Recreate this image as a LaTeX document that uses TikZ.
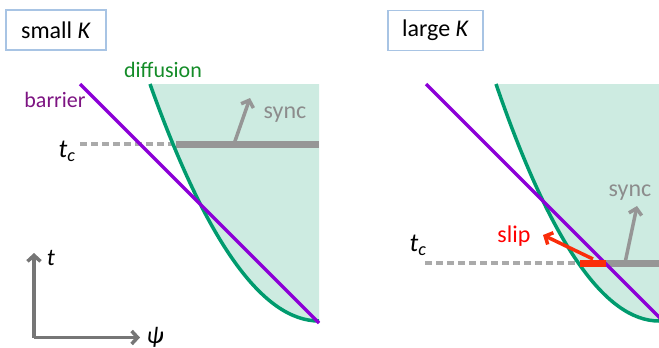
\documentclass[tikz,border=0pt]{standalone}
\usepackage{fontspec}
\setmainfont{Carlito}
\usetikzlibrary{arrows.meta}
\definecolor{teal0}{RGB}{205,235,225}
\definecolor{diffc}{RGB}{0,155,110}
\definecolor{barc}{RGB}{140,0,215}
\definecolor{bartxt}{RGB}{125,20,130}
\definecolor{difftxt}{RGB}{20,140,40}
\definecolor{dashc}{RGB}{170,170,170}
\definecolor{syncc}{RGB}{150,150,150}
\definecolor{synctxt}{RGB}{140,140,140}
\definecolor{axisc}{RGB}{118,118,118}
\definecolor{slipc}{RGB}{250,45,10}
\definecolor{sliptxt}{RGB}{255,0,0}
\definecolor{boxc}{RGB}{168,196,228}
\begin{document}
\begin{tikzpicture}[x=1pt,y=-1pt,
  lbl/.style={font=\fontsize{22}{26}\selectfont, inner sep=0pt, anchor=base},
  biglbl/.style={font=\fontsize{24}{28}\selectfont, inner sep=0pt, anchor=base},
  boxlbl/.style={draw=boxc, line width=1.5pt, minimum width=100pt, minimum height=40pt, inner sep=0pt, font=\fontsize{24}{28}\selectfont},
  tclbl/.style={font=\fontsize{26}{30}\selectfont\itshape, inner sep=0pt},
  barrierline/.style={draw=barc, line width=3.5pt},
  diffline/.style={draw=diffc, line width=3.5pt},
  dashline/.style={draw=dashc, line width=3.5pt, dash pattern=on 7pt off 4pt},
  syncbar/.style={draw=syncc, line width=7pt},
  slipbar/.style={draw=slipc, line width=7pt},
  grayarrow/.style={draw=syncc, line width=3.5pt, -{Straight Barb[length=6pt,width=13pt]}},
  redarrow/.style={draw=slipc, line width=3.5pt, -{Straight Barb[length=6pt,width=13pt]}},
  axis/.style={draw=axisc, line width=3.5pt, -{Straight Barb[length=6pt,width=13pt]}},
]
\path[use as bounding box] (0,0) rectangle (659,348);
\clip (0,0) rectangle (659,348);

% ---------- left panel ----------
\node[boxlbl, minimum width=100pt] (boxL) at (56,30) {small \textit{K}};
\coordinate (Ltop) at (150,84);
\coordinate (Ltr) at (319,84);
\coordinate (Lbot) at (319,321);
\coordinate (Lbar) at (80,84);
\coordinate (Lbarend) at (319,323);
\fill[teal0] (Ltop) -- (Ltr) -- (Lbot) .. controls (262.7,321) and (206.3,242) .. (Ltop);
\coordinate (LdashA) at (80,144);
\coordinate (LdashB) at (172,144);
\coordinate (LsyncA) at (176,144);
\coordinate (LsyncB) at (319,144);
\draw[dashline] (LdashA) -- (LdashB);
\draw[syncbar] (LsyncA) -- (LsyncB);
\draw[diffline] (Ltop) .. controls (206.3,242) and (262.7,321) .. (Lbot);
\draw[barrierline] (Lbar) -- (Lbarend);
\coordinate (LarrA) at (234,144);
\coordinate (LarrB) at (250,98);
\draw[grayarrow] (LarrA) -- (LarrB);
\node[biglbl, text=synctxt] (syncL) at (285,118) {sync};
\node[lbl, text=bartxt] (barrierL) at (55,107) {barrier};
\node[lbl, text=difftxt] (diffL) at (163,77) {diffusion};
\node[tclbl] (tcL) at (67,151) {t\textsubscript{c}};
% axes
\coordinate (O) at (34,337.5);
\coordinate (Ot) at (34,253);
\coordinate (Opsi) at (140,337.5);
\draw[axis] (O) -- (Ot);
\draw[axis] (O) -- (Opsi);
\node[lbl, font=\fontsize{24}{26}\selectfont\itshape] (tlab) at (51,265) {t};
\node[font=\fontsize{24}{26}\selectfont\itshape, inner sep=0pt] (psilab) at (155,337) {ψ};

% ---------- right panel ----------
\node[boxlbl, minimum width=95pt] (boxR) at (435.5,30.5) {large \textit{K}};
\coordinate (Rtop) at (496,84);
\coordinate (Rtr) at (665,84);
\coordinate (Rcorner) at (665,321);
\coordinate (Rbot) at (659,321);
\coordinate (Rbar) at (426,84);
\coordinate (Rbarend) at (665,323);
\fill[teal0] (Rtop) -- (Rtr) -- (Rcorner) -- (Rbot) .. controls (604.7,321) and (550.3,242) .. (Rtop);
\coordinate (RdashA) at (425,263);
\coordinate (RdashB) at (577,263);
\coordinate (RslipA) at (580,263);
\coordinate (RslipB) at (606,263);
\coordinate (RsyncA) at (606,263);
\coordinate (RsyncB) at (665,263);
\draw[dashline] (RdashA) -- (RdashB);
\draw[syncbar] (RsyncA) -- (RsyncB);
\draw[diffline] (Rtop) .. controls (550.3,242) and (604.7,321) .. (Rbot);
\draw[barrierline] (Rbar) -- (Rbarend);
\draw[slipbar] (RslipA) -- (RslipB);
\coordinate (RarrA) at (625,263);
\coordinate (RarrB) at (637,206);
\draw[grayarrow] (RarrA) -- (RarrB);
\coordinate (RslA) at (593,259);
\coordinate (RslB) at (543,235);
\draw[redarrow] (RslA) -- (RslB);
\node[biglbl, text=synctxt] (syncR) at (630,196) {sync};
\node[biglbl, text=sliptxt] (slipR) at (514,242) {slip};
\node[tclbl] (tcR) at (418,245) {t\textsubscript{c}};
\end{tikzpicture}
\end{document}
